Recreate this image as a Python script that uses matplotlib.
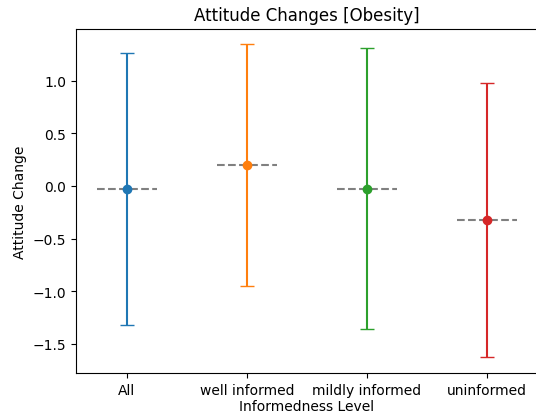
import matplotlib
matplotlib.use("Agg")
import matplotlib.pyplot as plt

categories = ["All", "well informed", "mildly informed", "uninformed"]
means = [-0.026, 0.199, -0.024, -0.324]
errors = [1.293, 1.149, 1.333, 1.307]
colors = ["#1f77b4", "#ff7f0e", "#2ca02c", "#d62728"]

W, H = 536, 414
fig = plt.figure(figsize=(W / 100, H / 100), dpi=100)
ax = fig.add_axes([76 / W, (H - 374) / H, (538 - 76) / W, (374 - 29.7) / H])

for i, (m, e, c) in enumerate(zip(means, errors, colors)):
    ax.errorbar(i, m, yerr=e, fmt="o", color=c, capsize=5)
    ax.hlines(m, i - 0.25, i + 0.25, colors="gray", linestyles="--")

ax.set_xticks(range(len(categories)))
ax.set_xticklabels(categories)
ax.set_xlabel("Informedness Level", labelpad=2)
ax.set_ylabel("Attitude Change")
ax.set_title("Attitude Changes [Obesity]")

fig.savefig("out.png", dpi=100)
